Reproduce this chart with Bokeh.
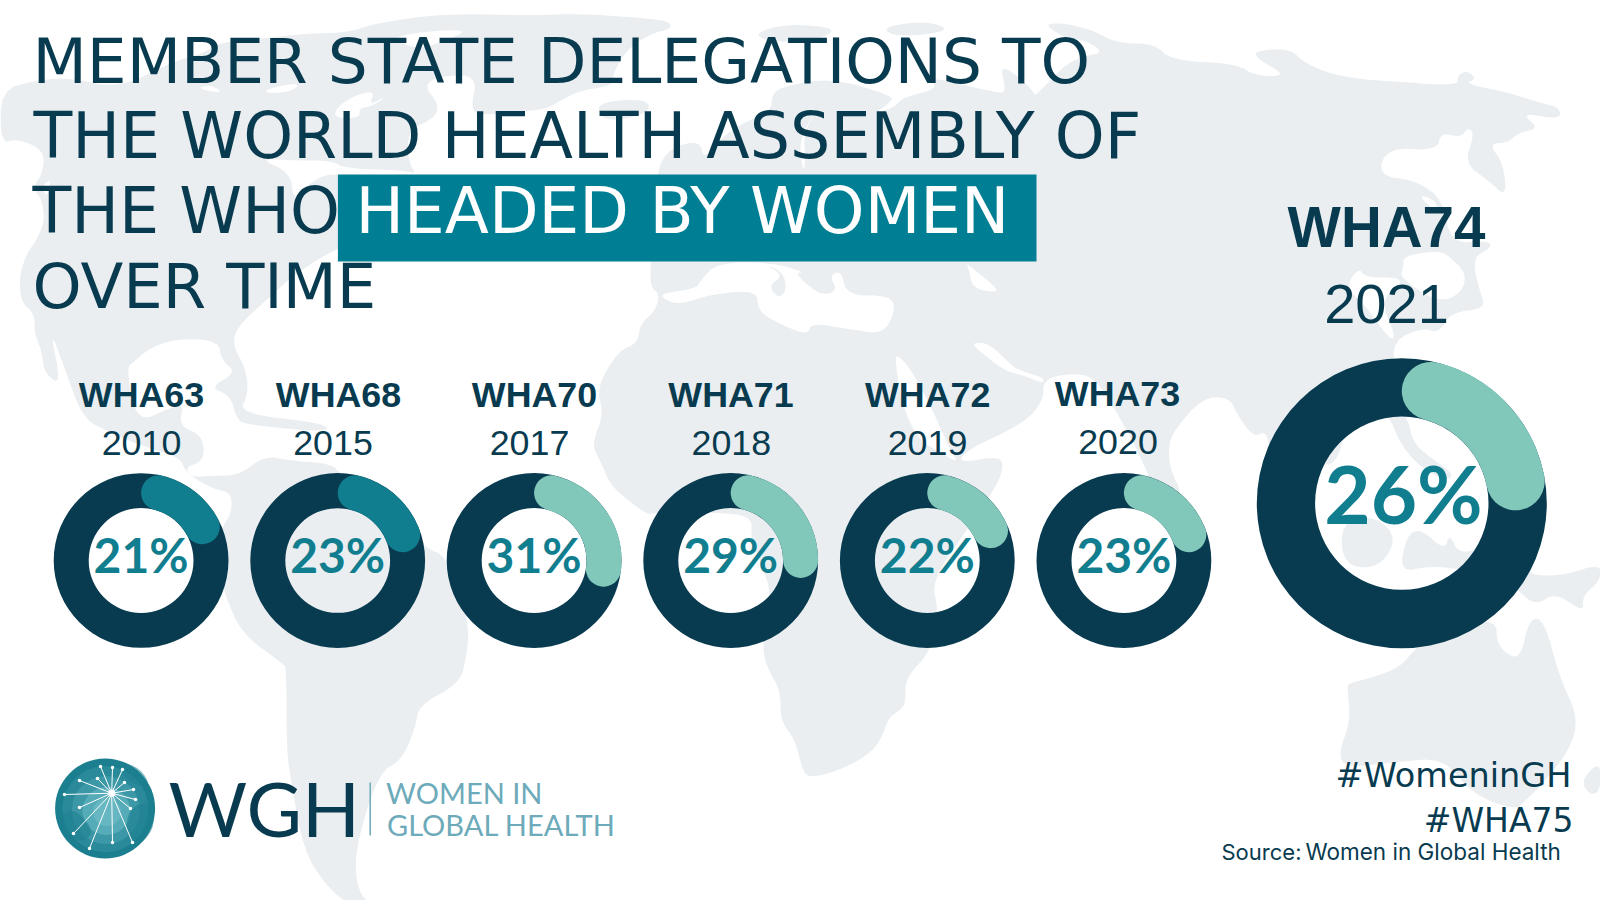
import math
from bokeh.plotting import figure
from bokeh.models import ColumnDataSource
from bokeh.core.properties import value
from bokeh.embed import file_html
from bokeh.resources import INLINE

# ---- chart data ----
small_labels = ["WHA63", "WHA68", "WHA70", "WHA71", "WHA72", "WHA73"]
small_years = ["2010", "2015", "2017", "2018", "2019", "2020"]
small_values = [21, 23, 31, 29, 22, 23]
big_label = "WHA74"
big_year = "2021"
big_value = 26
title_lines = ["MEMBER STATE DELEGATIONS TO", "THE WORLD HEALTH ASSEMBLY OF", "THE WHO", "OVER TIME"]
title_highlight = "HEADED BY WOMEN"

# ---- layout (page pixels) ----
small_cx = [140.6, 337.2, 533.6, 730.2, 926.8, 1123.4]
small_cy = 560
label_cx = [141, 338, 534, 730.5, 927.2, 1117]
year_cx = [141, 332.5, 529, 730.8, 927, 1117.5]
label_base = [407, 407, 407, 407, 407, 406]
year_base = [455, 455, 455, 455, 455, 454]
big_cx, big_cy = 1401.3, 502.7

NAVY = "#083B4F"
TEAL = "#117E90"
MINT = "#81C8BB"
RECT = "#007E94"
GREY = "#EAEEF1"
LOGOTXT = "#6DAABA"

# ---- world map silhouette, page pixels ----
north_america = [(0,90),(34,80),(68,77),(119,88),(170,62),(205,52),(218,42),(272,37),(306,33),(347,32),(374,23),(442,13),(533,15),(577,13),(635,17),(667,20),(672,28),(650,33),(625,50),(612,75),(612,85),(580,90),(560,100),(548,107),(533,110),(480,115),(470,108),(477,75),(440,75),(423,85),(438,103),(435,117),(407,130),(408,162),(417,175),(372,190),(372,235),(340,246),(299,270),(265,300),(235,328),(233,347),(245,367),(248,393),(238,413),(326,423),(326,432),(245,424),(236,418),(230,395),(209,387),(236,372),(221,360),(218,340),(177,338),(150,347),(131,363),(127,367),(131,403),(143,420),(163,410),(184,403),(178,425),(202,435),(204,460),(184,467),(192,477),(212,475),(238,475),(265,455),(289,460),(330,463),(340,473),(425,548),(446,555),(469,623),(466,657),(459,683),(418,705),(415,727),(401,760),(378,772),(354,850),(357,890),(371,905),(350,905),(327,887),(303,850),(291,783),(286,750),(286,667),(282,663),(241,633),(224,593),(215,560),(221,527),(231,513),(231,492),(211,488),(185,472),(180,457),(140,445),(105,430),(82,417),(65,370),(49,327),(61,385),(44,373),(41,350),(34,333),(34,313),(19,300),(20,263),(44,227),(42,200),(32,187),(42,173),(44,150),(17,138),(0,143)]
eurasia_africa = [(650,263),(655,173),(669,147),(700,140),(703,160),(727,130),(771,110),(771,97),(778,87),(829,77),(892,95),(890,102),(873,113),(894,107),(902,97),(938,88),(928,77),(958,83),(996,92),(1006,92),(999,63),(1023,80),(1036,95),(1036,103),(1024,105),(1047,83),(1066,63),(1086,55),(1103,52),(1086,40),(1066,38),(1048,27),(1048,23),(1066,23),(1093,30),(1117,43),(1154,43),(1171,60),(1236,63),(1256,76),(1287,75),(1256,58),(1255,50),(1290,48),(1304,63),(1341,77),(1406,82),(1457,85),(1457,75),(1466,70),(1476,78),(1464,83),(1508,92),(1542,103),(1559,107),(1560,119),(1520,112),(1539,128),(1518,132),(1508,142),(1488,143),(1503,163),(1506,197),(1488,180),(1464,163),(1474,133),(1467,127),(1461,137),(1440,132),(1437,150),(1387,147),(1377,175),(1416,180),(1443,200),(1450,243),(1488,240),(1491,247),(1472,257),(1478,287),(1486,308),(1450,312),(1438,333),(1423,327),(1392,340),(1395,375),(1395,405),(1407,417),(1413,443),(1430,457),(1453,473),(1447,480),(1430,473),(1410,457),(1397,437),(1392,423),(1380,405),(1345,420),(1340,453),(1328,467),(1318,455),(1270,450),(1265,430),(1253,437),(1236,413),(1229,397),(1202,397),(1171,433),(1168,450),(1170,470),(1182,493),(1165,510),(1148,475),(1137,450),(1117,413),(1100,385),(1083,372),(1043,377),(1043,400),(1023,423),(965,450),(958,463),(1000,455),(1003,470),(990,495),(968,527),(931,580),(938,610),(931,650),(905,677),(905,700),(902,708),(888,717),(883,733),(873,750),(846,767),(810,778),(802,770),(795,740),(780,720),(780,690),(768,670),(761,647),(771,593),(762,567),(750,537),(752,518),(729,512),(652,513),(645,513),(611,487),(601,463),(594,450),(593,440),(603,413),(596,387),(618,350),(637,343),(640,323),(655,310),(659,293),(650,287)]
australia = [(1347,683),(1372,677),(1399,667),(1416,647),(1450,620),(1496,620),(1496,640),(1505,653),(1520,658),(1529,617),(1544,620),(1559,677),(1578,717),(1569,750),(1542,783),(1525,800),(1515,810),(1471,793),(1443,757),(1392,762),(1345,767),(1338,753),(1350,720),(1347,690)]
islands = [
    [(594,102),(647,98),(649,113),(604,122)],
    [(752,33),(788,23),(839,28),(815,40),(771,42)],
    [(880,27),(924,20),(953,30),(897,37)],
    [(1580,780),(1600,760),(1600,790),(1590,795)],
    [(1510,557),(1530,575),(1563,575),(1600,563),(1600,580),(1582,595),(1583,612),(1555,592),(1535,605),(1518,590),(1500,580)],
    [(1340,522),(1343,565),(1378,568),(1397,538),(1375,515)],
    [(1399,572),(1406,535),(1420,528),(1444,550),(1449,533),(1458,553),(1480,548),(1490,530),(1510,557),(1470,570),(1430,565)],
]
water = [
    [(666,300),(679,304),(713,293),(757,290),(757,310),(778,323),(808,335),(810,322),(856,330),(883,333),(895,310),(890,295),(846,295),(841,270),(829,275),(837,290),(822,295),(805,283),(795,272),(805,272),(772,262),(717,262),(700,280),(696,288),(659,293)],
    [(965,262),(996,287),(996,292),(972,288),(968,267)],
    [(894,355),(900,357),(911,370),(931,407),(950,450),(958,462),(941,453),(920,440),(908,420),(900,395)],
    [(970,342),(989,343),(1009,363),(1019,370),(1043,377),(1043,383),(1023,375),(1004,370),(982,353)],
    [(1403,255),(1440,250),(1450,257),(1466,273),(1461,293),(1437,302),(1399,277),(1403,267)],
    [(1358,267),(1345,287),(1365,305),(1390,340),(1395,335),(1380,300),(1400,285),(1399,277),(1365,277)],
    [(1419,194),(1435,200),(1438,213),(1426,203)],
    [(258,158),(296,160),(330,160),(345,168),(412,170),(420,178),(372,185),(331,170),(303,187),(293,200),(290,172)],
    [(335,108),(353,95),(375,90),(368,105),(387,95),(373,105),(358,108),(360,117),(335,118)],
    [(387,35),(475,27),(433,45),(413,48)],
    [(262,91),(280,85),(299,83),(292,90),(275,93)],
    [(51,177),(41,187),(47,197)],
    [(210,84),(224,93),(196,88)],
    [(817,108),(803,133),(805,158),(803,173),(798,140)],
]
italy = [(764,263),(783,275),(768,285),(778,298),(786,290),(783,272)]
logo_rays = [(100,766),(112,767),(122,769),(124,782),(133,789),(135,799),(130,808),(132,842),(112,842),(89,848),(73,833),(79,807),(64,794),(79,780),(97,778)]
logo_hub = (111.2, 792.7)
logo_blobs = [
    [(60,815),(72,808),(88,822),(92,835),(78,842),(66,832)],
    [(128,808),(150,800),(155,825),(140,845),(125,835)],
    [(118,760),(140,768),(150,785),(135,785),(120,772)],
]

H = 900.0
BASE_K = 0.36

def smooth(pts, n=2):
    pts = list(pts)
    for _ in range(n):
        out = []
        for i, a in enumerate(pts):
            b = pts[(i + 1) % len(pts)]
            out.append((0.75 * a[0] + 0.25 * b[0], 0.75 * a[1] + 0.25 * b[1]))
            out.append((0.25 * a[0] + 0.75 * b[0], 0.25 * a[1] + 0.75 * b[1]))
        pts = out
    return pts

def xs_ys(polys):
    sm = [smooth(q) for q in polys]
    return [[c[0] for c in q] for q in sm], [[H - c[1] for c in q] for q in sm]

p = figure(width=1600, height=900, x_range=(0, 1600), y_range=(0, 900),
           output_backend="svg", toolbar_location=None, min_border=0,
           background_fill_color="white", border_fill_color="white", outline_line_color=None)
p.axis.visible = False
p.grid.visible = False

# map
mx, my = xs_ys([north_america, eurasia_africa, australia] + islands)
p.patches(mx, my, fill_color=GREY, line_color=None)
wx, wy = xs_ys(water)
p.patches(wx, wy, fill_color="white", line_color=None)
ix, iy = xs_ys([italy])
p.patches(ix, iy, fill_color=GREY, line_color=None)

def txt(x, y, s, size, color=NAVY, font="Liberation Sans", style="normal", align="left"):
    p.text([x], [H - y + BASE_K * size], text=[s], text_font=value(font), text_font_size=f"{size}px",
           text_font_style=style, text_color=color, text_align=align, text_baseline="alphabetic")

# title
TF = "DejaVu Sans"
txt(32, 83.5, title_lines[0], 63, font=TF)
txt(33, 158.5, title_lines[1], 63.5, font=TF)
txt(32, 233.5, title_lines[2], 63.5, font=TF)
txt(32, 308.5, title_lines[3], 62.5, font=TF)
p.quad(left=[337.4], right=[1036], bottom=[H - 261], top=[H - 174], fill_color=RECT, line_color=None)
txt(355, 233.5, title_highlight, 64.5, color="white", font=TF)

# donuts
def donuts(cx, cy, ro, ri, vals, colors):
    mid = (ro + ri) / 2
    w = ro - ri
    capdeg = math.degrees(math.asin(w / 2 / mid))
    src = ColumnDataSource(dict(
        x=cx, y=[H - c for c in cy], v=vals, color=colors,
        start=[math.radians(90 - capdeg)] * len(vals),
        end=[math.radians(90 - (v / 100 * 360 - capdeg)) for v in vals],
    ))
    p.annulus(x="x", y="y", inner_radius=ri, outer_radius=ro, source=src, fill_color=NAVY, line_color=None)
    p.arc(x="x", y="y", radius=mid, start_angle="start", end_angle="end", direction="clock",
          line_color="color", line_width=w, line_cap="round", source=src)

small_colors = [TEAL, TEAL, MINT, MINT, MINT, MINT]
donuts(small_cx, [small_cy] * 6, 87.4, 52.4, small_values, small_colors)
donuts([big_cx], [big_cy], 145, 86.7, [big_value], [MINT])

# small labels
for i in range(6):
    txt(label_cx[i], label_base[i], small_labels[i], 35.8, style="bold", align="center")
    txt(year_cx[i], year_base[i], small_years[i], 35.8, align="center")
    txt(small_cx[i], 571.7, f"{small_values[i]}%", 48, color=TEAL, font="Lato", style="bold", align="center")
txt(1386, 247.7, big_label, 56.5, style="bold", align="center")
txt(1386, 324, big_year, 56, align="center")
txt(1403, 521.7, f"{big_value}%", 80, color=TEAL, font="Lato", style="bold", align="center")

# logo
lcx, lcy = 104.6, 808.0
for r, c in [(50, "#1C7F90"), (43, "#2A8A9A"), (34, "#3C98A6"), (24, "#55ABB7"), (14, "#66B7C2")]:
    p.circle([lcx + (50 - r) * 0.05], [H - lcy - (50 - r) * 0.1], radius=r, fill_color=c, line_color=None)
bx, by = xs_ys(logo_blobs)
p.patches(bx, by, fill_color="#1C7F90", fill_alpha=0.55, line_color=None)
hx, hy = logo_hub
p.segment([hx] * len(logo_rays), [H - hy] * len(logo_rays), [q[0] for q in logo_rays], [H - q[1] for q in logo_rays],
          line_color="white", line_width=1)
p.scatter([q[0] for q in logo_rays], [H - q[1] for q in logo_rays], size=3.5, fill_color="white", line_color=None)
p.scatter([hx], [H - hy], size=7, fill_color="white", line_color=None)

txt(168, 834.3, "WGH", 76, font="Lato")
p.segment([369.7], [H - 782], [369.7], [H - 835], line_color=LOGOTXT, line_width=1.5)
txt(385.5, 802.7, "WOMEN IN", 29, color=LOGOTXT, font="Lato")
txt(386.5, 834.3, "GLOBAL HEALTH", 29, color=LOGOTXT, font="Lato")

# footer
txt(1571, 787, "#WomeninGH", 33.5, font="DejaVu Sans", align="right")
txt(1573, 832, "#WHA75", 33, font="DejaVu Sans", align="right")
txt(1221, 859, "Source:", 22, font="Inter")
txt(1305, 859, "Women in Global Health", 22.5, font="Inter")

open("out.html", "w").write(file_html(p, INLINE))
